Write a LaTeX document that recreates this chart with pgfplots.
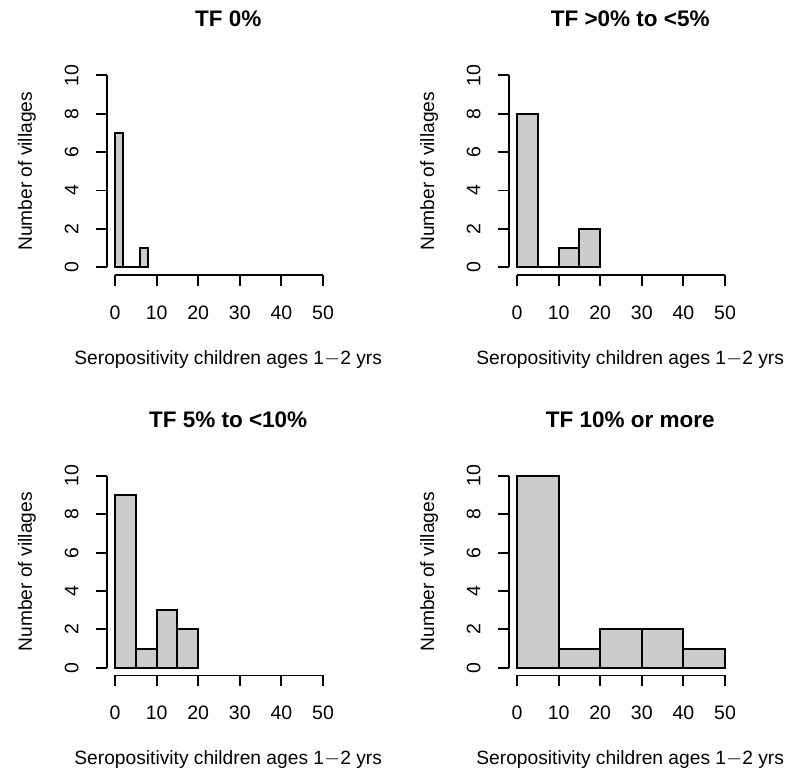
\documentclass[border=0pt]{standalone}
\usepackage{fontspec}
\setmainfont{Liberation Sans}
\usepackage{pgfplots}
\pgfplotsset{compat=1.18}
\definecolor{barfill}{RGB}{204,204,204}
\pgfplotsset{
  rhist/.style={
    x=4.16pt, y=19.2pt,
    xmin=-2, xmax=56.4, ymin=-0.4, ymax=10.4,
    anchor=south west, clip=false,
    axis x line*=bottom, axis y line*=left,
    axis line style={draw=none},
    xtick={0,10,...,50}, ytick={0,2,...,10},
    tick align=outside, major tick length=11pt,
    tick style={black, line width=1.9pt},
    /pgf/number format/assume math mode=true,
    tick label style={font=\fontsize{19.5}{19.5}\selectfont, inner sep=0pt},
    xticklabel style={anchor=north},
    yticklabel style={rotate=90, anchor=base},
    xticklabel shift=19.5pt,
    yticklabel shift=17.4pt,
    title style={at={([yshift=35pt]axis description cs:0.5,1)}, anchor=base,
      font=\bfseries\fontsize{22.5}{22.5}\selectfont},
    xlabel style={at={([yshift=-89.3pt]axis description cs:0.5,0)}, anchor=base,
      font=\fontsize{19.2}{19.2}\selectfont},
    ylabel style={at={([xshift=-74.7pt]axis description cs:0,0.5)}, anchor=base, rotate=0,
      font=\fontsize{19.2}{19.2}\selectfont},
    xlabel={Seropositivity children ages 1$-$2 yrs},
    ylabel={Number of villages},
  },
  rbar/.style={ybar interval, fill=barfill, draw=black, line width=1.9pt},
}
\newcommand{\raxes}{%
  \draw[line width=1.9pt] (axis cs:0,-0.4) -- (axis cs:50,-0.4);
  \draw[line width=1.9pt] (axis cs:-2,0) -- (axis cs:-2,10);
}
\begin{document}
\begin{tikzpicture}
\useasboundingbox (0,0) rectangle (788pt,771pt);
\begin{axis}[rhist, at={(106.7pt,496pt)}, title={TF 0\%}]
  \addplot[rbar] coordinates {(0,7) (2,0) (4,0) (6,1) (8,1)};
  \raxes
\end{axis}
\begin{axis}[rhist, at={(508.7pt,496pt)}, title={TF >0\% to <5\%}]
  \addplot[rbar] coordinates {(0,8) (5,0) (10,1) (15,2) (20,2)};
  \raxes
\end{axis}
\begin{axis}[rhist, at={(106.7pt,95.5pt)}, title={TF 5\% to <10\%}]
  \addplot[rbar] coordinates {(0,9) (5,1) (10,3) (15,2) (20,2)};
  \raxes
\end{axis}
\begin{axis}[rhist, at={(508.7pt,95.5pt)}, title={TF 10\% or more}]
  \addplot[rbar] coordinates {(0,10) (10,1) (20,2) (30,2) (40,1) (50,1)};
  \raxes
\end{axis}
\end{tikzpicture}
\end{document}
